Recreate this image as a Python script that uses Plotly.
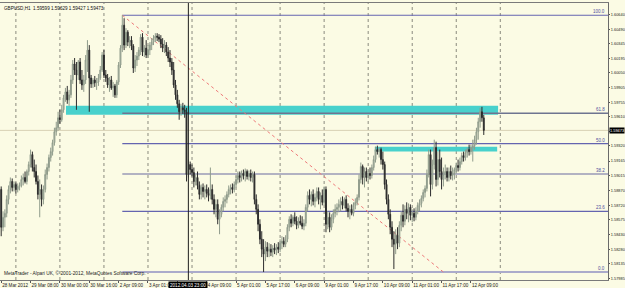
import plotly.graph_objects as go

# ---------------- data (GBPUSD H1) ----------------
OPEN = [
 1.5888, 1.5850, 1.5860, 1.5864, 1.5878, 1.5888, 1.5896, 1.5890, 1.5893, 1.5888,
 1.5891, 1.5892, 1.5898, 1.5900, 1.5896, 1.5906, 1.5913, 1.5923, 1.5910, 1.5906,
 1.5896, 1.5883, 1.5888, 1.5878, 1.5888, 1.5903, 1.5910, 1.5920, 1.5926, 1.5935,
 1.5946, 1.5950, 1.5960, 1.5958, 1.5968, 1.5980, 1.5986, 1.5978, 1.5983, 1.5998,
 1.6014, 1.6008, 1.6003, 1.6016, 1.5998, 1.5993, 1.5998, 1.6018, 1.6028, 1.6000,
 1.5994, 1.5998, 1.5995, 1.5996, 1.6000, 1.6008, 1.6023, 1.6003, 1.6000, 1.5993,
 1.5998, 1.5990, 1.5992, 1.5983, 1.5996, 1.6013, 1.6030, 1.6053, 1.6033, 1.6046,
 1.6036, 1.6038, 1.6032, 1.6010, 1.6018, 1.6022, 1.6028, 1.6041, 1.6026, 1.6030,
 1.6023, 1.6028, 1.6033, 1.6036, 1.6040, 1.6042, 1.6041, 1.6039, 1.6034, 1.6030,
 1.6033, 1.6026, 1.6020, 1.6016, 1.6008, 1.5993, 1.5983, 1.5974, 1.5966, 1.5970,
 1.5968, 1.5966, 1.5903, 1.5913, 1.5908, 1.5905, 1.5896, 1.5900, 1.5892, 1.5883,
 1.5890, 1.5886, 1.5888, 1.5884, 1.5882, 1.5888, 1.5878, 1.5868, 1.5873, 1.5858,
 1.5863, 1.5870, 1.5876, 1.5878, 1.5883, 1.5888, 1.5890, 1.5888, 1.5893, 1.5898,
 1.5902, 1.5900, 1.5904, 1.5902, 1.5906, 1.5901, 1.5904, 1.5900, 1.5903, 1.5878,
 1.5868, 1.5853, 1.5838, 1.5828, 1.5823, 1.5830, 1.5826, 1.5828, 1.5825, 1.5829,
 1.5827, 1.5830, 1.5828, 1.5834, 1.5836, 1.5833, 1.5838, 1.5850, 1.5858, 1.5854,
 1.5860, 1.5856, 1.5852, 1.5856, 1.5854, 1.5851, 1.5854, 1.5870, 1.5882, 1.5878,
 1.5883, 1.5876, 1.5880, 1.5886, 1.5878, 1.5882, 1.5875, 1.5888, 1.5853, 1.5860,
 1.5850, 1.5858, 1.5864, 1.5868, 1.5870, 1.5873, 1.5876, 1.5872, 1.5878, 1.5869,
 1.5866, 1.5868, 1.5864, 1.5872, 1.5875, 1.5880, 1.5898, 1.5911, 1.5900, 1.5906,
 1.5900, 1.5904, 1.5902, 1.5910, 1.5918, 1.5928, 1.5926, 1.5928, 1.5918, 1.5913,
 1.5893, 1.5878, 1.5863, 1.5850, 1.5838, 1.5833, 1.5842, 1.5834, 1.5852, 1.5862,
 1.5856, 1.5868, 1.5864, 1.5870, 1.5862, 1.5864, 1.5860, 1.5866, 1.5872, 1.5874,
 1.5879, 1.5885, 1.5889, 1.5903, 1.5923, 1.5893, 1.5913, 1.5930, 1.5898, 1.5918,
 1.5906, 1.5898, 1.5903, 1.5906, 1.5900, 1.5906, 1.5902, 1.5904, 1.5908, 1.5912,
 1.5910, 1.5916, 1.5922, 1.5920, 1.5925, 1.5928, 1.5926, 1.5930, 1.5932, 1.5938,
 1.5946, 1.5956, 1.5966, 1.59599,
]
HIGH = [
 1.5891, 1.5866, 1.5868, 1.5882, 1.5892, 1.5900, 1.5899, 1.5896, 1.5895, 1.5894,
 1.5895, 1.5902, 1.5904, 1.5906, 1.5908, 1.5916, 1.5928, 1.5926, 1.5918, 1.5913,
 1.5902, 1.5898, 1.5893, 1.5892, 1.5908, 1.5914, 1.5923, 1.5930, 1.5938, 1.5950,
 1.5956, 1.5966, 1.5968, 1.5973, 1.5983, 1.5990, 1.5992, 1.5988, 1.6003, 1.6018,
 1.6020, 1.6016, 1.6018, 1.6020, 1.6008, 1.6003, 1.6023, 1.6038, 1.6033, 1.6003,
 1.6000, 1.6002, 1.6000, 1.6004, 1.6012, 1.6026, 1.6028, 1.6008, 1.6004, 1.6001,
 1.6002, 1.5996, 1.5994, 1.5998, 1.6016, 1.6033, 1.6063, 1.6060, 1.6050, 1.6048,
 1.6042, 1.6042, 1.6034, 1.6023, 1.6026, 1.6031, 1.6044, 1.6045, 1.6033, 1.6038,
 1.6033, 1.6036, 1.6040, 1.6043, 1.6045, 1.6045, 1.6044, 1.6043, 1.6040, 1.6038,
 1.6036, 1.6031, 1.6028, 1.6020, 1.6016, 1.5998, 1.5988, 1.5978, 1.5974, 1.5975,
 1.5973, 1.5970, 1.5918, 1.5916, 1.5913, 1.5910, 1.5903, 1.5906, 1.5896, 1.5893,
 1.5894, 1.5892, 1.5893, 1.5890, 1.5910, 1.5893, 1.5883, 1.5878, 1.5878, 1.5868,
 1.5873, 1.5880, 1.5882, 1.5886, 1.5892, 1.5893, 1.5894, 1.5896, 1.5902, 1.5906,
 1.5906, 1.5907, 1.5908, 1.5909, 1.5908, 1.5907, 1.5908, 1.5906, 1.5906, 1.5883,
 1.5873, 1.5858, 1.5846, 1.5838, 1.5836, 1.5835, 1.5834, 1.5833, 1.5832, 1.5834,
 1.5833, 1.5835, 1.5838, 1.5841, 1.5840, 1.5842, 1.5853, 1.5861, 1.5863, 1.5862,
 1.5865, 1.5861, 1.5860, 1.5862, 1.5861, 1.5858, 1.5873, 1.5886, 1.5888, 1.5886,
 1.5888, 1.5884, 1.5890, 1.5890, 1.5885, 1.5888, 1.5891, 1.5891, 1.5866, 1.5865,
 1.5863, 1.5868, 1.5873, 1.5874, 1.5878, 1.5880, 1.5881, 1.5880, 1.5882, 1.5874,
 1.5872, 1.5873, 1.5875, 1.5879, 1.5883, 1.5903, 1.5915, 1.5913, 1.5910, 1.5910,
 1.5908, 1.5910, 1.5913, 1.5922, 1.5931, 1.5932, 1.5930, 1.5930, 1.5926, 1.5916,
 1.5898, 1.5883, 1.5868, 1.5856, 1.5846, 1.5848, 1.5850, 1.5856, 1.5866, 1.5873,
 1.5872, 1.5875, 1.5874, 1.5873, 1.5868, 1.5869, 1.5870, 1.5875, 1.5878, 1.5882,
 1.5888, 1.5892, 1.5908, 1.5928, 1.5928, 1.5918, 1.5938, 1.5936, 1.5926, 1.5928,
 1.5920, 1.5910, 1.5913, 1.5910, 1.5910, 1.5912, 1.5910, 1.5910, 1.5915, 1.5918,
 1.5920, 1.5925, 1.5926, 1.5928, 1.5930, 1.5933, 1.5933, 1.5938, 1.5942, 1.5950,
 1.5960, 1.5970, 1.5971, 1.59629,
]
LOW = [
 1.5841, 1.5846, 1.5850, 1.5860, 1.5873, 1.5884, 1.5886, 1.5886, 1.5884, 1.5885,
 1.5887, 1.5890, 1.5892, 1.5894, 1.5893, 1.5902, 1.5910, 1.5906, 1.5900, 1.5893,
 1.5878, 1.5860, 1.5871, 1.5873, 1.5885, 1.5898, 1.5906, 1.5916, 1.5922, 1.5932,
 1.5942, 1.5947, 1.5954, 1.5956, 1.5965, 1.5976, 1.5974, 1.5972, 1.5980, 1.5994,
 1.6003, 1.5968, 1.5998, 1.5994, 1.5988, 1.5986, 1.5994, 1.6006, 1.5966, 1.5990,
 1.5990, 1.5991, 1.5988, 1.5992, 1.5998, 1.6006, 1.6000, 1.5996, 1.5990, 1.5986,
 1.5988, 1.5981, 1.5980, 1.5980, 1.5993, 1.6010, 1.6026, 1.6028, 1.6030, 1.6032,
 1.6030, 1.6028, 1.6005, 1.6006, 1.6012, 1.6018, 1.6023, 1.6022, 1.6021, 1.6020,
 1.6020, 1.6023, 1.6028, 1.6033, 1.6036, 1.6037, 1.6036, 1.6030, 1.6026, 1.6025,
 1.6022, 1.6016, 1.6011, 1.6003, 1.5990, 1.5978, 1.5970, 1.5958, 1.5962, 1.5964,
 1.5960, 1.5896, 1.5900, 1.5903, 1.5901, 1.5890, 1.5892, 1.5888, 1.5878, 1.5878,
 1.5880, 1.5878, 1.5880, 1.5876, 1.5878, 1.5873, 1.5863, 1.5860, 1.5853, 1.5843,
 1.5860, 1.5866, 1.5870, 1.5874, 1.5880, 1.5883, 1.5884, 1.5885, 1.5890, 1.5894,
 1.5895, 1.5896, 1.5898, 1.5896, 1.5898, 1.5897, 1.5896, 1.5895, 1.5873, 1.5863,
 1.5846, 1.5833, 1.5820, 1.5805, 1.5816, 1.5820, 1.5820, 1.5821, 1.5820, 1.5823,
 1.5822, 1.5824, 1.5825, 1.5828, 1.5830, 1.5830, 1.5835, 1.5846, 1.5850, 1.5851,
 1.5853, 1.5848, 1.5849, 1.5852, 1.5848, 1.5847, 1.5851, 1.5866, 1.5873, 1.5871,
 1.5872, 1.5870, 1.5876, 1.5873, 1.5868, 1.5872, 1.5872, 1.5845, 1.5848, 1.5845,
 1.5847, 1.5854, 1.5860, 1.5862, 1.5865, 1.5866, 1.5868, 1.5869, 1.5866, 1.5860,
 1.5858, 1.5862, 1.5861, 1.5868, 1.5872, 1.5877, 1.5894, 1.5893, 1.5890, 1.5896,
 1.5895, 1.5898, 1.5899, 1.5907, 1.5915, 1.5923, 1.5920, 1.5913, 1.5908, 1.5888,
 1.5873, 1.5858, 1.5843, 1.5830, 1.5808, 1.5823, 1.5828, 1.5830, 1.5846, 1.5850,
 1.5852, 1.5858, 1.5855, 1.5857, 1.5855, 1.5856, 1.5857, 1.5863, 1.5866, 1.5870,
 1.5876, 1.5880, 1.5886, 1.5900, 1.5881, 1.5888, 1.5908, 1.5891, 1.5892, 1.5900,
 1.5888, 1.5891, 1.5898, 1.5896, 1.5896, 1.5898, 1.5897, 1.5898, 1.5904, 1.5906,
 1.5907, 1.5913, 1.5916, 1.5917, 1.5920, 1.5922, 1.5923, 1.5916, 1.5928, 1.5933,
 1.5938, 1.5950, 1.5956, 1.59427,
]
CLOSE = [
 1.5850, 1.5860, 1.5864, 1.5878, 1.5888, 1.5896, 1.5890, 1.5893, 1.5888, 1.5891,
 1.5892, 1.5898, 1.5900, 1.5896, 1.5906, 1.5913, 1.5923, 1.5910, 1.5906, 1.5896,
 1.5883, 1.5888, 1.5878, 1.5888, 1.5903, 1.5910, 1.5920, 1.5926, 1.5935, 1.5946,
 1.5950, 1.5960, 1.5958, 1.5968, 1.5980, 1.5986, 1.5978, 1.5983, 1.5998, 1.6014,
 1.6008, 1.6003, 1.6016, 1.5998, 1.5993, 1.5998, 1.6018, 1.6028, 1.6000, 1.5994,
 1.5998, 1.5995, 1.5996, 1.6000, 1.6008, 1.6023, 1.6003, 1.6000, 1.5993, 1.5998,
 1.5990, 1.5992, 1.5983, 1.5996, 1.6013, 1.6030, 1.6053, 1.6033, 1.6046, 1.6036,
 1.6038, 1.6032, 1.6010, 1.6018, 1.6022, 1.6028, 1.6041, 1.6026, 1.6030, 1.6023,
 1.6028, 1.6033, 1.6036, 1.6040, 1.6042, 1.6041, 1.6039, 1.6034, 1.6030, 1.6033,
 1.6026, 1.6020, 1.6016, 1.6008, 1.5993, 1.5983, 1.5974, 1.5966, 1.5970, 1.5968,
 1.5966, 1.5903, 1.5913, 1.5908, 1.5905, 1.5896, 1.5900, 1.5892, 1.5883, 1.5890,
 1.5886, 1.5888, 1.5884, 1.5882, 1.5888, 1.5878, 1.5868, 1.5873, 1.5858, 1.5863,
 1.5870, 1.5876, 1.5878, 1.5883, 1.5888, 1.5890, 1.5888, 1.5893, 1.5898, 1.5902,
 1.5900, 1.5904, 1.5902, 1.5906, 1.5901, 1.5904, 1.5900, 1.5903, 1.5878, 1.5868,
 1.5853, 1.5838, 1.5828, 1.5823, 1.5830, 1.5826, 1.5828, 1.5825, 1.5829, 1.5827,
 1.5830, 1.5828, 1.5834, 1.5836, 1.5833, 1.5838, 1.5850, 1.5858, 1.5854, 1.5860,
 1.5856, 1.5852, 1.5856, 1.5854, 1.5851, 1.5854, 1.5870, 1.5882, 1.5878, 1.5883,
 1.5876, 1.5880, 1.5886, 1.5878, 1.5882, 1.5875, 1.5888, 1.5853, 1.5860, 1.5850,
 1.5858, 1.5864, 1.5868, 1.5870, 1.5873, 1.5876, 1.5872, 1.5878, 1.5869, 1.5866,
 1.5868, 1.5864, 1.5872, 1.5875, 1.5880, 1.5898, 1.5911, 1.5900, 1.5906, 1.5900,
 1.5904, 1.5902, 1.5910, 1.5918, 1.5928, 1.5926, 1.5928, 1.5918, 1.5913, 1.5893,
 1.5878, 1.5863, 1.5850, 1.5838, 1.5833, 1.5842, 1.5834, 1.5852, 1.5862, 1.5856,
 1.5868, 1.5864, 1.5870, 1.5862, 1.5864, 1.5860, 1.5866, 1.5872, 1.5874, 1.5879,
 1.5885, 1.5889, 1.5903, 1.5923, 1.5893, 1.5913, 1.5930, 1.5898, 1.5918, 1.5906,
 1.5898, 1.5903, 1.5906, 1.5900, 1.5906, 1.5902, 1.5904, 1.5908, 1.5912, 1.5910,
 1.5916, 1.5922, 1.5920, 1.5925, 1.5928, 1.5926, 1.5930, 1.5932, 1.5938, 1.5946,
 1.5956, 1.5966, 1.5960, 1.59473,
]

# time-axis labels every 16 bars; "" where the reference's black time box covers it
TIME_LABELS = ["28 Mar 2012", "29 Mar 08:00", "30 Mar 00:00", "30 Mar 16:00",
               "2 Apr 09:00", "3 Apr 01:00", "", "4 Apr 09:00",
               "5 Apr 01:00", "5 Apr 17:00", "6 Apr 09:00", "9 Apr 01:00",
               "9 Apr 17:00", "10 Apr 09:00", "11 Apr 01:00", "11 Apr 17:00",
               "12 Apr 09:00"]
LABEL_STEP_BARS = 16
DAY_START_BARS = [8, 32, 56, 80, 104, 128, 152, 176, 200, 224, 248, 272]

# price-axis labels ("" where the bid box covers the label)
PRICE_TICKS = [1.60640, 1.60490, 1.60345, 1.60195, 1.60050, 1.59905, 1.59755,
               1.59610, 1.59465, 1.59320, 1.59165, 1.59015, 1.58870, 1.58720,
               1.58575, 1.58430, 1.58280, 1.58135, 1.57985]
HIDDEN_PRICE_TICKS = [1.59465]

FIBO_HIGH = 1.6063
FIBO_LOW = 1.5805
FIBO_START_BAR = 66
FIBO_END_BAR = 241
FIBO_LEVELS = [100.0, 61.8, 50.0, 38.2, 23.6, 0.0]

ZONE_BARS = [(35.3, 270.8), (203.6, 270.3)]
ZONE_PRICES = [(1.5963, 1.5972), (1.5926, 1.5931)]

VLINE_BAR = 102
VLINE_LABEL = "2012.04.03 23:00"
BID = 1.59473
SYMBOL_TEXT = "GBPUSD,H1  1.59599 1.59629 1.59427 1.59473"
COPYRIGHT = "MetaTrader - Alpari UK, \u00a9 2001-2012, MetaQuotes Software Corp."

# ---------------- styling ----------------
BG = "#FBFBE4"
FONT = "Liberation Sans"
X_RANGE = [-0.654, 330.7]
Y_RANGE = [1.57970, 1.60753]
FIBO_STYLE = {
    100.0: ("#6464B0", 1.2),
    61.8: ("#6E7490", 1.5),
    50.0: ("#6464B0", 1.2),
    38.2: ("#B2B2C2", 2),
    23.6: ("#6464B0", 1.2),
    0.0: ("#ABABCB", 2),
}

bars = list(range(len(OPEN)))

fig = go.Figure()
fig.add_trace(go.Candlestick(
    x=bars, open=OPEN, high=HIGH, low=LOW, close=CLOSE,
    increasing=dict(line=dict(color="#8F9B8B", width=1), fillcolor="#BCC4B6"),
    decreasing=dict(line=dict(color="#2C2C2C", width=1), fillcolor="#2C2C2C"),
    hoverinfo="skip", showlegend=False,
))

shapes = []
for (b0, b1), (p0, p1) in zip(ZONE_BARS, ZONE_PRICES):
    shapes.append(dict(type="rect", xref="x", yref="y", x0=b0, x1=b1, y0=p0, y1=p1,
                       fillcolor="#48D1CC", line=dict(width=0), layer="below"))
for b in DAY_START_BARS:
    shapes.append(dict(type="line", xref="x", yref="paper", x0=b, x1=b, y0=0, y1=1,
                       line=dict(color="#8A8A7E", width=1, dash="dot"), layer="below"))
shapes.append(dict(type="line", xref="paper", yref="y", x0=0, x1=1, y0=BID, y1=BID,
                   line=dict(color="#D8D2B6", width=1), layer="below"))
annotations = []
for lvl in FIBO_LEVELS:
    price = FIBO_LOW + (FIBO_HIGH - FIBO_LOW) * lvl / 100.0
    col, w = FIBO_STYLE[lvl]
    shapes.append(dict(type="line", xref="x", yref="y", x0=FIBO_START_BAR, x1=X_RANGE[1],
                       y0=price, y1=price, line=dict(color=col, width=w), layer="below"))
    annotations.append(dict(xref="paper", yref="y", x=1, y=price, xanchor="right",
                            yanchor="bottom", xshift=-1, yshift=-1, text=f"{lvl:.1f}",
                            showarrow=False, font=dict(family=FONT, size=4.5, color="#5050A0")))
shapes.append(dict(type="line", xref="x", yref="y", x0=FIBO_START_BAR, x1=FIBO_END_BAR,
                   y0=FIBO_HIGH, y1=FIBO_LOW, line=dict(color="#EE7A7A", width=1, dash="dot"),
                   layer="below"))
shapes.append(dict(type="line", xref="x", yref="paper", x0=VLINE_BAR, x1=VLINE_BAR, y0=0, y1=1,
                   line=dict(color="#1E1E1E", width=1), layer="above"))

annotations += [
    dict(xref="paper", yref="paper", x=0, y=1, xanchor="left", yanchor="top", xshift=2, yshift=-1,
         text=SYMBOL_TEXT, showarrow=False, font=dict(family=FONT, size=4.6, color="#111111")),
    dict(xref="paper", yref="paper", x=0, y=0, xanchor="left", yanchor="bottom", xshift=2, yshift=2,
         text=COPYRIGHT, showarrow=False, font=dict(family=FONT, size=4.8, color="#222222")),
    dict(xref="x", yref="paper", x=VLINE_BAR, y=0, xanchor="center", yanchor="top", yshift=-1,
         text=VLINE_LABEL, showarrow=False, bgcolor="#000000", borderpad=1,
         font=dict(family=FONT, size=4.6, color="#FFFFFF")),
    dict(xref="paper", yref="y", x=1, y=BID, xanchor="left", yanchor="middle", xshift=1,
         text=f"{BID:.5f}", showarrow=False, bgcolor="#000000", borderpad=0,
         font=dict(family=FONT, size=3.9, color="#FFFFFF")),
]

fig.update_layout(
    width=625, height=288,
    margin=dict(l=0, r=17, t=3, b=8),
    paper_bgcolor=BG, plot_bgcolor=BG,
    showlegend=False,
    shapes=shapes, annotations=annotations,
    xaxis=dict(range=X_RANGE, rangeslider=dict(visible=False), showgrid=False, zeroline=False,
               tickmode="array", tickvals=[i * LABEL_STEP_BARS for i in range(len(TIME_LABELS))],
               ticktext=TIME_LABELS, ticks="outside", ticklen=2, tickcolor="#555555",
               tickangle=0, ticklabelposition="outside right", ticklabelstandoff=0,
               tickfont=dict(family=FONT, size=4.6, color="#222222"),
               showline=True, linecolor="#7A7A7A", linewidth=1, mirror=True, automargin=False,
               fixedrange=True),
    yaxis=dict(range=Y_RANGE, side="right", showgrid=False, zeroline=False,
               tickmode="array", tickvals=PRICE_TICKS,
               ticktext=["" if v in HIDDEN_PRICE_TICKS else f"{v:.5f}" for v in PRICE_TICKS],
               ticks="outside", ticklen=1, tickcolor="#555555", ticklabelstandoff=0,
               tickfont=dict(family=FONT, size=3.9, color="#222222"),
               showline=True, linecolor="#6A6A6A", linewidth=1, mirror=True, automargin=False,
               fixedrange=True),
)

fig.write_html("out.html", config={"displayModeBar": False})
